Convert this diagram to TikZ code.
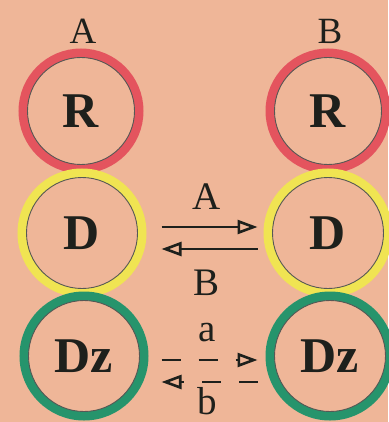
\documentclass[tikz,border=0pt]{standalone}
\usepackage{fontspec}
\setmainfont{Liberation Serif}
\usetikzlibrary{arrows.meta}
\definecolor{bg}{RGB}{239,182,152}
\definecolor{ringred}{RGB}{228,84,94}
\definecolor{ringyel}{RGB}{240,228,82}
\definecolor{ringgrn}{RGB}{38,148,108}
\definecolor{ink}{RGB}{30,32,28}
\tikzset{
  ring/.style={circle, inner sep=0pt, minimum size=116pt, line width=9pt, text=ink,
    font=\bfseries\fontsize{50}{50}\selectfont},
  toplabel/.style={text=ink, inner sep=0pt, font=\fontsize{37}{37}\selectfont},
  arrlabel/.style={text=ink, inner sep=0pt, font=\fontsize{39}{39}\selectfont},
  conn/.style={draw=ink, line width=2.8pt,
    -{Triangle[open, length=20pt, width=14pt, line width=2.6pt]}},
  dconn/.style={conn, dash pattern=on 19pt off 18pt},
  inner/.style={draw=ink!75, line width=0.9pt}
}
\begin{document}
\begin{tikzpicture}[x=1pt,y=-1pt]
\fill[bg] (0,0) rectangle (388,422);
\useasboundingbox (0,0) rectangle (388,422);
% left column
\node[ring, draw=ringred] (RA) at (81,111) {R};
\node[ring, draw=ringyel, minimum size=120pt] (DA) at (82,233) {D};
\node[ring, draw=ringgrn, minimum size=120pt] (ZA) at (84,356) {Dz};
% right column
\node[ring, draw=ringred] (RB) at (328,111) {R};
\node[ring, draw=ringyel, minimum size=120pt] (DB) at (328,233) {D};
\node[ring, draw=ringgrn, minimum size=120pt] (ZB) at (330,356) {Dz};
% inner dark edges
\foreach \n/\r in {RA/53.5,RB/53.5,DA/55.5,DB/55.5,ZA/55.5,ZB/55.5}{
  \draw[inner] (\n.center) circle (\r);
}
% top labels
\node[toplabel] (LA) at (83,31) {A};
\node[toplabel] (LB) at (330,31) {B};
% solid arrows
\draw[conn] ([xshift=15pt,yshift=6pt]DA.east) -- ([xshift=-6pt,yshift=6pt]DB.west);
\draw[conn] ([xshift=-6pt,yshift=-16pt]DB.west) -- ([xshift=15pt,yshift=-16pt]DA.east);
\node[arrlabel] (la) at (207,197) {A};
\node[arrlabel] (lb) at (207,283) {B};
% dashed arrows
\draw[dconn] ([xshift=13pt,yshift=-4pt]ZA.east) -- ([xshift=-8pt,yshift=-4pt]ZB.west);
\draw[dconn] ([xshift=-8pt,yshift=-26pt]ZB.west) -- ([xshift=13pt,yshift=-26pt]ZA.east);
\node[arrlabel] (sa) at (207,333) {a};
\node[arrlabel] (sb) at (207,401) {b};
\end{tikzpicture}
\end{document}
